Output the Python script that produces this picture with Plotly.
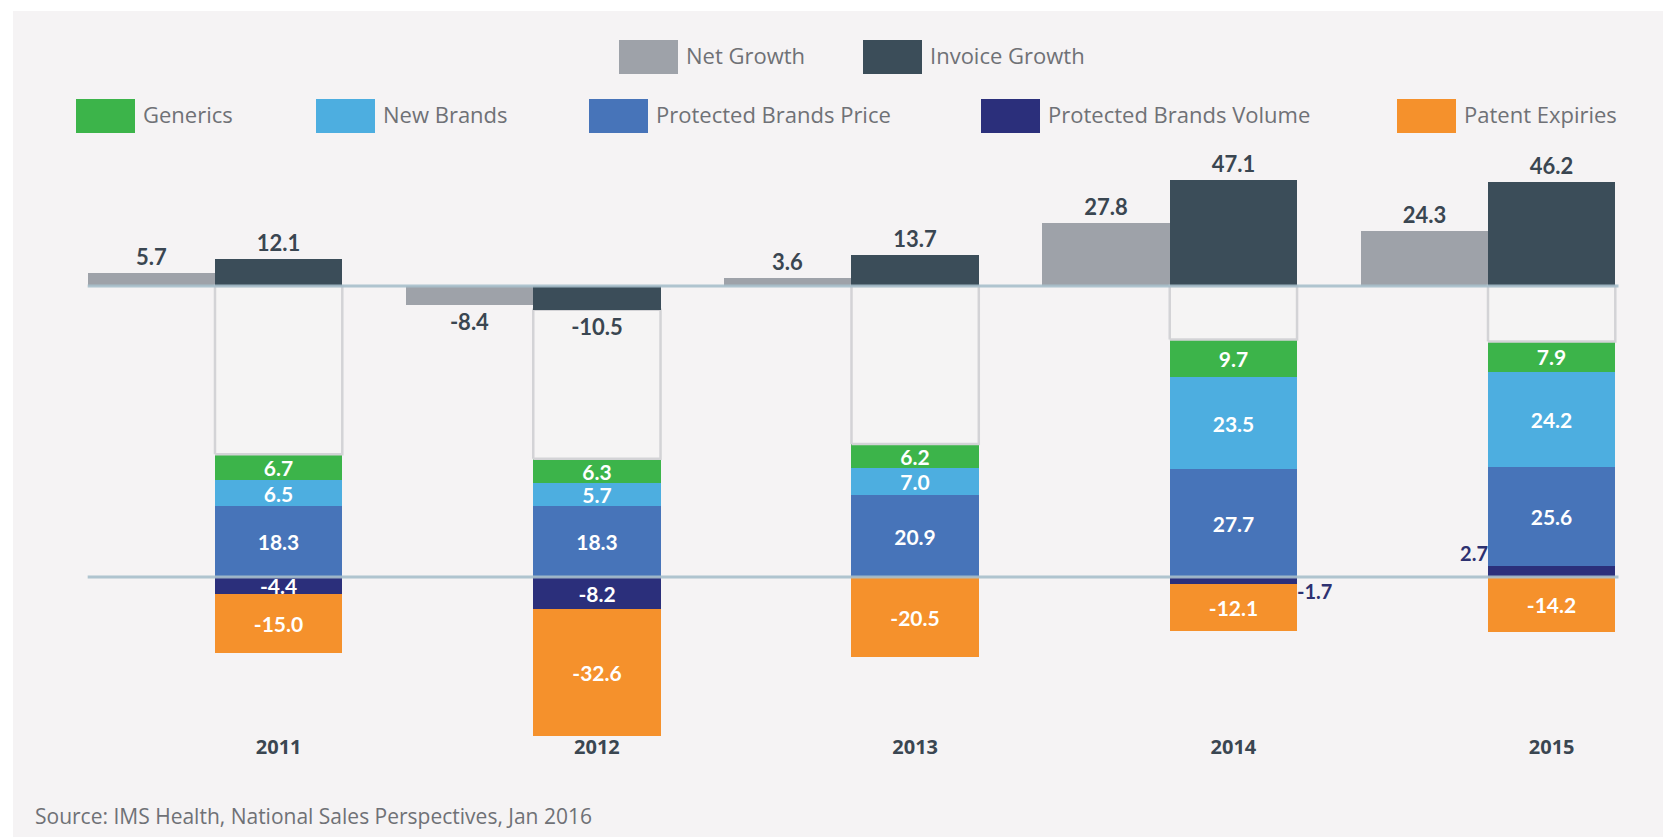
import plotly.graph_objects as go

# ---------------- data ----------------
years = [2011, 2012, 2013, 2014, 2015]
net_growth = [5.7, -8.4, 3.6, 27.8, 24.3]
invoice_growth = [12.1, -10.5, 13.7, 47.1, 46.2]
generics = [6.7, 6.3, 6.2, 9.7, 7.9]
new_brands = [6.5, 5.7, 7.0, 23.5, 24.2]
protected_price = [18.3, 18.3, 20.9, 27.7, 25.6]
protected_volume = [-4.4, -8.2, 0.0, -1.7, 2.7]
patent_expiries = [-15.0, -32.6, -20.5, -12.1, -14.2]
source_note = "Source: IMS Health, National Sales Perspectives, Jan 2016"

# ---------------- styling ----------------
FONT = "Lato, 'Open Sans', sans-serif"
FONT_WIDE = "'Open Sans', Lato, sans-serif"
C_NET = "#9ea2a9"
C_INV = "#3b4d59"
C_GEN = "#3cb44a"
C_NEW = "#4daee0"
C_PRICE = "#4774b9"
C_VOL = "#2b2f7b"
C_PAT = "#f5912c"
C_ZERO = "#a8bfcb"
C_CONN = "#d3d3d6"
C_BG = "#f5f3f4"
C_LABEL = "#3a4651"
C_LEGTXT = "#6f7176"

# page / plot geometry (pixels)
W_PX, H_PX = 1663, 837
ML, MT = 13, 11
PW, PH = W_PX - ML, H_PX - MT
BAR_W = 0.4
X_RANGE = [2010.3653, 2015.5499]
UP_ZERO_PX, UP_SCALE = 286.0, 2.25     # px of zero line, px per unit (growth)
LO_ZERO_PX, LO_SCALE = 577.0, 3.9      # px of zero line, px per unit (components)
Y_UP = [-(H_PX - UP_ZERO_PX) / UP_SCALE, (UP_ZERO_PX - MT) / UP_SCALE]
Y_LO = [-(H_PX - LO_ZERO_PX) / LO_SCALE, (LO_ZERO_PX - MT) / LO_SCALE]


def up_to_lo(v):
    """Convert a value on the growth axis to the component axis (same screen height)."""
    f = (v - Y_UP[0]) / (Y_UP[1] - Y_UP[0])
    return Y_LO[0] + f * (Y_LO[1] - Y_LO[0])


def px_x(px):
    return (px - ML) / PW


def px_y(py):
    return (H_PX - py) / PH


fig = go.Figure()

# connector boxes (invoice bar -> component stack)
cx, cy = [], []
for yr, inv, g, n, p, v in zip(years, invoice_growth, generics, new_brands,
                                protected_price, protected_volume):
    top_stack = g + n + p + max(v, 0)
    start = up_to_lo(min(inv, 0))
    cx += [yr, yr, yr + BAR_W, yr + BAR_W, yr, None]
    cy += [top_stack, start, start, top_stack, top_stack, None]
fig.add_trace(go.Scatter(x=cx, y=cy, mode="lines", fill="toself",
                         fillcolor="rgba(255,255,255,0.08)",
                         line=dict(color=C_CONN, width=2.5),
                         yaxis="y2", showlegend=False, hoverinfo="skip"))

# component stack (relative stacking on lower axis)
vol_text = [f"{v:.1f}" if abs(v) >= 3 else "" for v in protected_volume]
components = [
    ("Protected Brands Volume", protected_volume, C_VOL, vol_text),
    ("Protected Brands Price", protected_price, C_PRICE, None),
    ("New Brands", new_brands, C_NEW, None),
    ("Generics", generics, C_GEN, None),
    ("Patent Expiries", patent_expiries, C_PAT, None),
]
for name, vals, col, txt in components:
    kw = dict(text=txt, texttemplate="%{text}") if txt is not None else dict(texttemplate="%{y:.1f}")
    fig.add_trace(go.Bar(
        name=name, x=years, y=vals, yaxis="y2",
        offset=0, width=BAR_W, marker=dict(color=col, line=dict(width=0)),
        textposition="inside", insidetextanchor="middle", textangle=0,
        constraintext="none",
        insidetextfont=dict(family=FONT, size=21, color="white", weight="bold"),
        showlegend=False, **kw))

# small volume values labelled beside the stack
sx, sy, st, sp = [], [], [], []
for yr, v in zip(years, protected_volume):
    if v != 0 and abs(v) < 3:
        sx.append(yr + BAR_W if v < 0 else yr)
        sy.append(v)
        st.append(f"{v:.1f}")
        sp.append("bottom right" if v < 0 else "top left")
fig.add_trace(go.Scatter(x=sx, y=sy, text=st, mode="text", textposition=sp,
                         textfont=dict(family=FONT, size=20, color="#2d3170", weight="bold"),
                         yaxis="y2", showlegend=False, hoverinfo="skip"))

# growth bars (upper axis)
fig.add_trace(go.Bar(
    name="Net Growth", x=years, y=net_growth, yaxis="y",
    offset=-BAR_W, width=BAR_W, marker=dict(color=C_NET, line=dict(width=0)),
    texttemplate="%{y:.1f}", textposition="outside", constraintext="none",
    outsidetextfont=dict(family=FONT, size=22, color=C_LABEL, weight="bold"),
    cliponaxis=False, showlegend=False))
fig.add_trace(go.Bar(
    name="Invoice Growth", x=years, y=invoice_growth, yaxis="y3",
    offset=0, width=BAR_W, marker=dict(color=C_INV, line=dict(width=0)),
    texttemplate="%{y:.1f}", textposition="outside", constraintext="none",
    outsidetextfont=dict(family=FONT, size=22, color=C_LABEL, weight="bold"),
    cliponaxis=False, showlegend=False))

# zero lines
shapes = []
for yref in ("y", "y2"):
    shapes.append(dict(type="line", xref="x", yref=yref,
                       x0=years[0] - BAR_W, x1=years[-1] + BAR_W + 0.01, y0=0, y1=0,
                       line=dict(color=C_ZERO, width=3), layer="above", opacity=0.9))

# custom legend (two rows)
legend_rows = [
    [("Net Growth", C_NET, 619), ("Invoice Growth", C_INV, 863)],
    [("Generics", C_GEN, 76), ("New Brands", C_NEW, 316),
     ("Protected Brands Price", C_PRICE, 589),
     ("Protected Brands Volume", C_VOL, 981), ("Patent Expiries", C_PAT, 1397)],
]
row_top = [40, 99]
SW_W, SW_H = 59, 34
annotations = []
for r, items in enumerate(legend_rows):
    for label, col, x0 in items:
        y0 = row_top[r]
        shapes.append(dict(type="rect", xref="paper", yref="paper",
                           x0=px_x(x0), x1=px_x(x0 + SW_W),
                           y0=px_y(y0 + SW_H), y1=px_y(y0),
                           fillcolor=col, line=dict(width=0), layer="above"))
        annotations.append(dict(xref="paper", yref="paper", x=px_x(x0 + SW_W + 6),
                                y=px_y(y0 + SW_H / 2 - 2), xanchor="left", yanchor="middle",
                                text=label, showarrow=False,
                                font=dict(family=FONT_WIDE, size=22, color=C_LEGTXT)))

annotations.append(dict(xref="paper", yref="paper", x=px_x(33), y=px_y(816),
                        xanchor="left", yanchor="middle", text=source_note,
                        showarrow=False,
                        font=dict(family=FONT_WIDE, size=21, color=C_LEGTXT)))

fig.update_layout(
    width=W_PX, height=H_PX,
    margin=dict(l=ML, r=0, t=MT, b=0, pad=0),
    paper_bgcolor="white", plot_bgcolor=C_BG,
    barmode="relative", bargap=0,
    showlegend=False,
    font=dict(family=FONT),
    xaxis=dict(range=X_RANGE, showgrid=False, zeroline=False, showline=False,
               tickvals=[y + BAR_W / 2 for y in years], ticktext=[str(y) for y in years],
               ticks="", anchor="free", position=px_y(733),
               tickfont=dict(family=FONT_WIDE, size=20, color=C_LABEL, weight="bold"),
               fixedrange=True),
    yaxis=dict(range=Y_UP, visible=False, fixedrange=True),
    yaxis2=dict(range=Y_LO, visible=False, overlaying="y", fixedrange=True),
    yaxis3=dict(range=Y_UP, visible=False, overlaying="y", fixedrange=True),
    shapes=shapes,
    annotations=annotations,
)

fig.write_html("out.html", config={"displayModeBar": False},
               post_script="document.body.style.margin='0px';document.body.style.overflow='hidden';")
